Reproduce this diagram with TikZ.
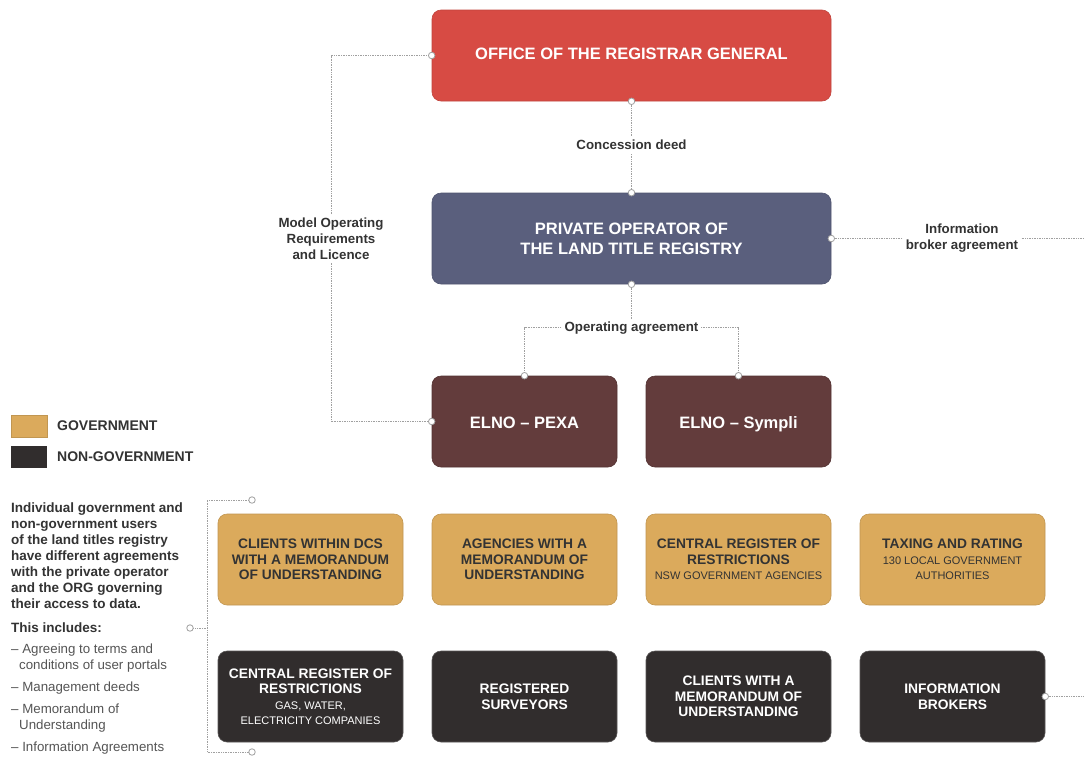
\documentclass[tikz,border=0pt]{standalone}
\usepackage{fontspec}
\setmainfont{Liberation Sans}
\usetikzlibrary{calc}
\definecolor{orgred}{HTML}{D74B44}
\definecolor{opblue}{HTML}{5A5F7D}
\definecolor{elno}{HTML}{633C3C}
\definecolor{gold}{HTML}{DBAA5C}
\definecolor{darkbox}{HTML}{312D2D}
\definecolor{txt}{HTML}{333333}
\definecolor{listtxt}{HTML}{555555}
\definecolor{linegray}{HTML}{A0A0A0}
\newcommand{\subline}[1]{{\mdseries\fontsize{11}{15.5}\selectfont #1}}
\newcommand{\elnotext}[1]{\raisebox{-3pt}[0.72em][0.21em]{#1}}
\begin{document}
\begin{tikzpicture}[x=1pt,y=-1pt,
  box/.style={rounded corners=9pt, align=center, inner sep=0pt, text=white, line width=0.6pt},
  big/.style={box, minimum width=399pt, minimum height=91pt, font=\bfseries\fontsize{16.5}{20}\selectfont},
  elnobox/.style={box, fill=elno, draw=elno!85!black, minimum width=185pt, minimum height=91pt, font=\bfseries\fontsize{16.5}{20}\selectfont},
  govbox/.style={box, fill=gold, draw=gold!88!black, text=txt, minimum width=185pt, minimum height=91pt, font=\bfseries\fontsize{13.8}{15.5}\selectfont},
  ngbox/.style={box, fill=darkbox, draw=darkbox!80!white, text=white, minimum width=185pt, minimum height=91pt, font=\bfseries\fontsize{13.8}{15.5}\selectfont},
  conn/.style={draw=linegray, densely dotted, line width=0.7pt},
  lbl/.style={fill=white, text=txt, font=\bfseries\fontsize{13.3}{16}\selectfont, align=center, inner sep=3pt},
  dot/.style={circle, draw=linegray, fill=white, line width=0.8pt, minimum size=6.5pt, inner sep=0pt},
  legsq/.style={minimum width=36pt, minimum height=22pt, inner sep=0pt},
  legtext/.style={anchor=west, text=txt, font=\bfseries\fontsize{14}{16}\selectfont, inner sep=0pt}
]
\useasboundingbox[fill=white] (0,0) rectangle (1084,756);

% main boxes
\node[big, fill=orgred, draw=orgred!90!black] (org) at (631.5,55.5) {\raisebox{3pt}{OFFICE OF THE REGISTRAR GENERAL}};
\node[big, fill=opblue, draw=opblue!90!black] (priv) at (631.5,238.5) {PRIVATE OPERATOR OF\\THE LAND TITLE REGISTRY};
\node[elnobox] (pexa) at (524.5,421.5) {\elnotext{ELNO -- PEXA}};
\node[elnobox] (sympli) at (738.5,421.5) {\elnotext{ELNO -- Sympli}};

% government row
\node[govbox] (g1) at (310.5,559.5) {CLIENTS WITHIN DCS\\WITH A MEMORANDUM\\OF UNDERSTANDING};
\node[govbox] (g2) at (524.5,559.5) {AGENCIES WITH A\\MEMORANDUM OF\\UNDERSTANDING};
\node[govbox] (g3) at (738.5,559.5) {CENTRAL REGISTER OF\\RESTRICTIONS\\\subline{NSW GOVERNMENT AGENCIES}};
\node[govbox] (g4) at (952.5,559.5) {TAXING AND RATING\\\subline{130 LOCAL GOVERNMENT}\\\subline{AUTHORITIES}};

% non-government row
\node[ngbox] (n1) at (310.5,696.5) {CENTRAL REGISTER OF\\RESTRICTIONS\\\subline{GAS, WATER,}\\\subline{ELECTRICITY COMPANIES}};
\node[ngbox] (n2) at (524.5,696.5) {REGISTERED\\SURVEYORS};
\node[ngbox] (n3) at (738.5,696.5) {CLIENTS WITH A\\MEMORANDUM OF\\UNDERSTANDING};
\node[ngbox] (n4) at (952.5,696.5) {INFORMATION\\BROKERS};

% legend
\node[legsq, fill=gold, draw=gold!88!black] (lgov) at (29,426) {};
\node[legtext] (lgovt) at (57,426) {GOVERNMENT};
\node[legsq, fill=darkbox] (lng) at (29,457) {};
\node[legtext] (lngt) at (57,457) {NON-GOVERNMENT};

% left text
\node[anchor=north west, align=left, inner sep=0pt, text=txt, font=\bfseries\fontsize{13.5}{16}\selectfont] (para) at (11,502.5)
 {Individual government and\\non-government users\\of the land titles registry\\have different agreements\\with the private operator\\and the ORG governing\\their access to data.};
\node[anchor=west, inner sep=0pt, text=txt, font=\bfseries\fontsize{13.5}{16}\selectfont] (incl) at (11,628) {This includes:};
\node[anchor=north west, align=left, inner sep=0pt, text=listtxt, font=\fontsize{13.3}{16}\selectfont] (list) at (11,643.5)
 {-- Agreeing to terms and\\\hspace*{8pt}conditions of user portals\\[6pt]-- Management deeds\\[6pt]-- Memorandum of\\\hspace*{8pt}Understanding\\[6pt]-- Information Agreements};

% coordinates for free ends
\coordinate (mleft) at (331,421.5);
\coordinate (ibend) at (1084,238.5);
\coordinate (n4end) at (1084,696.5);
\coordinate (brtop) at (252,500);
\coordinate (brtl) at (207,500);
\coordinate (brbl) at (207,752);
\coordinate (brbot) at (252,752);
\coordinate (brmid) at (207,628);
\coordinate (brdot) at (190,628);

% connectors
\draw[conn] (org.south) -- (priv.north);
\draw[conn] (org.west) -| (mleft) -- (pexa.west);
\draw[conn] (priv.south) -- ++(0,44);
\draw[conn] (pexa.north) -- ++(0,-48) -| (sympli.north);
\draw[conn] (priv.east) -- (ibend);
\draw[conn] (n4.east) -- (n4end);
\draw[conn] (brtop) -- (brtl) -- (brbl) -- (brbot);
\draw[conn] (brdot) -- (brmid);

% connector labels
\node[lbl] (lcd) at (631.5,145) {Concession deed};
\node[lbl] (lmo) at (331,239) {Model Operating\\Requirements\\and Licence};
\node[lbl] (loa) at (631.5,328) {Operating agreement};
\node[lbl] (lib) at (962,238) {Information\\broker agreement};

% dots
\foreach \p in {org.south, priv.north, org.west, pexa.west, priv.south, pexa.north, sympli.north, priv.east, n4.east, brtop, brbot, brdot}
  \node[dot] at (\p) {};
\end{tikzpicture}
\end{document}
